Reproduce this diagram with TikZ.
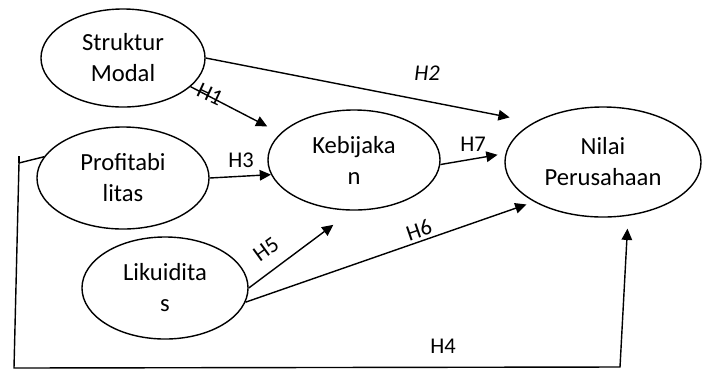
\documentclass[tikz,border=0pt]{standalone}
\usepackage{fontspec}
\setmainfont{Carlito}
\usepackage{tikz}
\usetikzlibrary{shapes.geometric, arrows.meta}

\begin{document}
\begin{tikzpicture}[x=0.025cm, y=-0.025cm,
  varbox/.style={draw=black, ellipse, line width=1pt, inner sep=0pt, align=center, font=\fontsize{17.5}{22}\selectfont},
  arr/.style={-{Triangle[length=8pt, width=7.5pt]}, line width=1pt},
  lbl/.style={font=\fontsize{16}{19}\selectfont, inner sep=0pt}]
\useasboundingbox (0,0) rectangle (707,370);

\node[varbox, minimum width=4.1cm, minimum height=2.45cm] (sm) at (123,58) {Struktur\\Modal};
\node[varbox, minimum width=4.3cm, minimum height=2.55cm] (pr) at (123,178) {Profitabi\\litas};
\node[varbox, minimum width=4.15cm, minimum height=2.55cm] (lk) at (165,288) {Likuidita\\s};
\node[varbox, minimum width=4.3cm, minimum height=2.5cm] (kb) at (354,160) {Kebijaka\\n};
\node[varbox, minimum width=4.9cm, minimum height=2.75cm] (nl) at (603,162) {Nilai\\Perusahaan};

%panah
\draw[arr, shorten >=0.37cm] (sm.-23) -- (kb.160);
\draw[arr, shorten >=0.62cm] (sm.east) -- (nl.150);
\draw[arr] (pr.east) -- (kb.190);
\draw[arr, shorten >=0.2cm] (kb.-3) -- (nl.175);
\draw[arr, shorten >=0.59cm] (lk.east) -- (kb.-92);
\draw[arr, shorten >=0.2cm] (lk.-10) -- (nl.210);

%jalur H4
\coordinate (h4t) at (19,156);
\coordinate (h4a) at (19,163);
\coordinate (h4b) at (14,368);
\coordinate (h4c) at (620,367);
\draw[line width=1pt] (h4t) -- (h4a);
\draw[arr, shorten >=0.32cm] (pr.165) -- (h4a) -- (h4b) -- (h4c) -- (nl.-65);

%label
\node[lbl, rotate=-25] (l1) at (210,94) {H1};
\node[lbl, font=\fontsize{16}{19}\selectfont\itshape] (l2) at (427,73) {H2};
\node[lbl] (l3) at (241,160) {H3};
\node[lbl] (l4) at (443,346) {H4};
\node[lbl, rotate=36] (l5) at (266,249) {H5};
\node[lbl, rotate=19] (l6) at (419,230) {H6};
\node[lbl] (l7) at (473,144) {H7};
\end{tikzpicture}
\end{document}
